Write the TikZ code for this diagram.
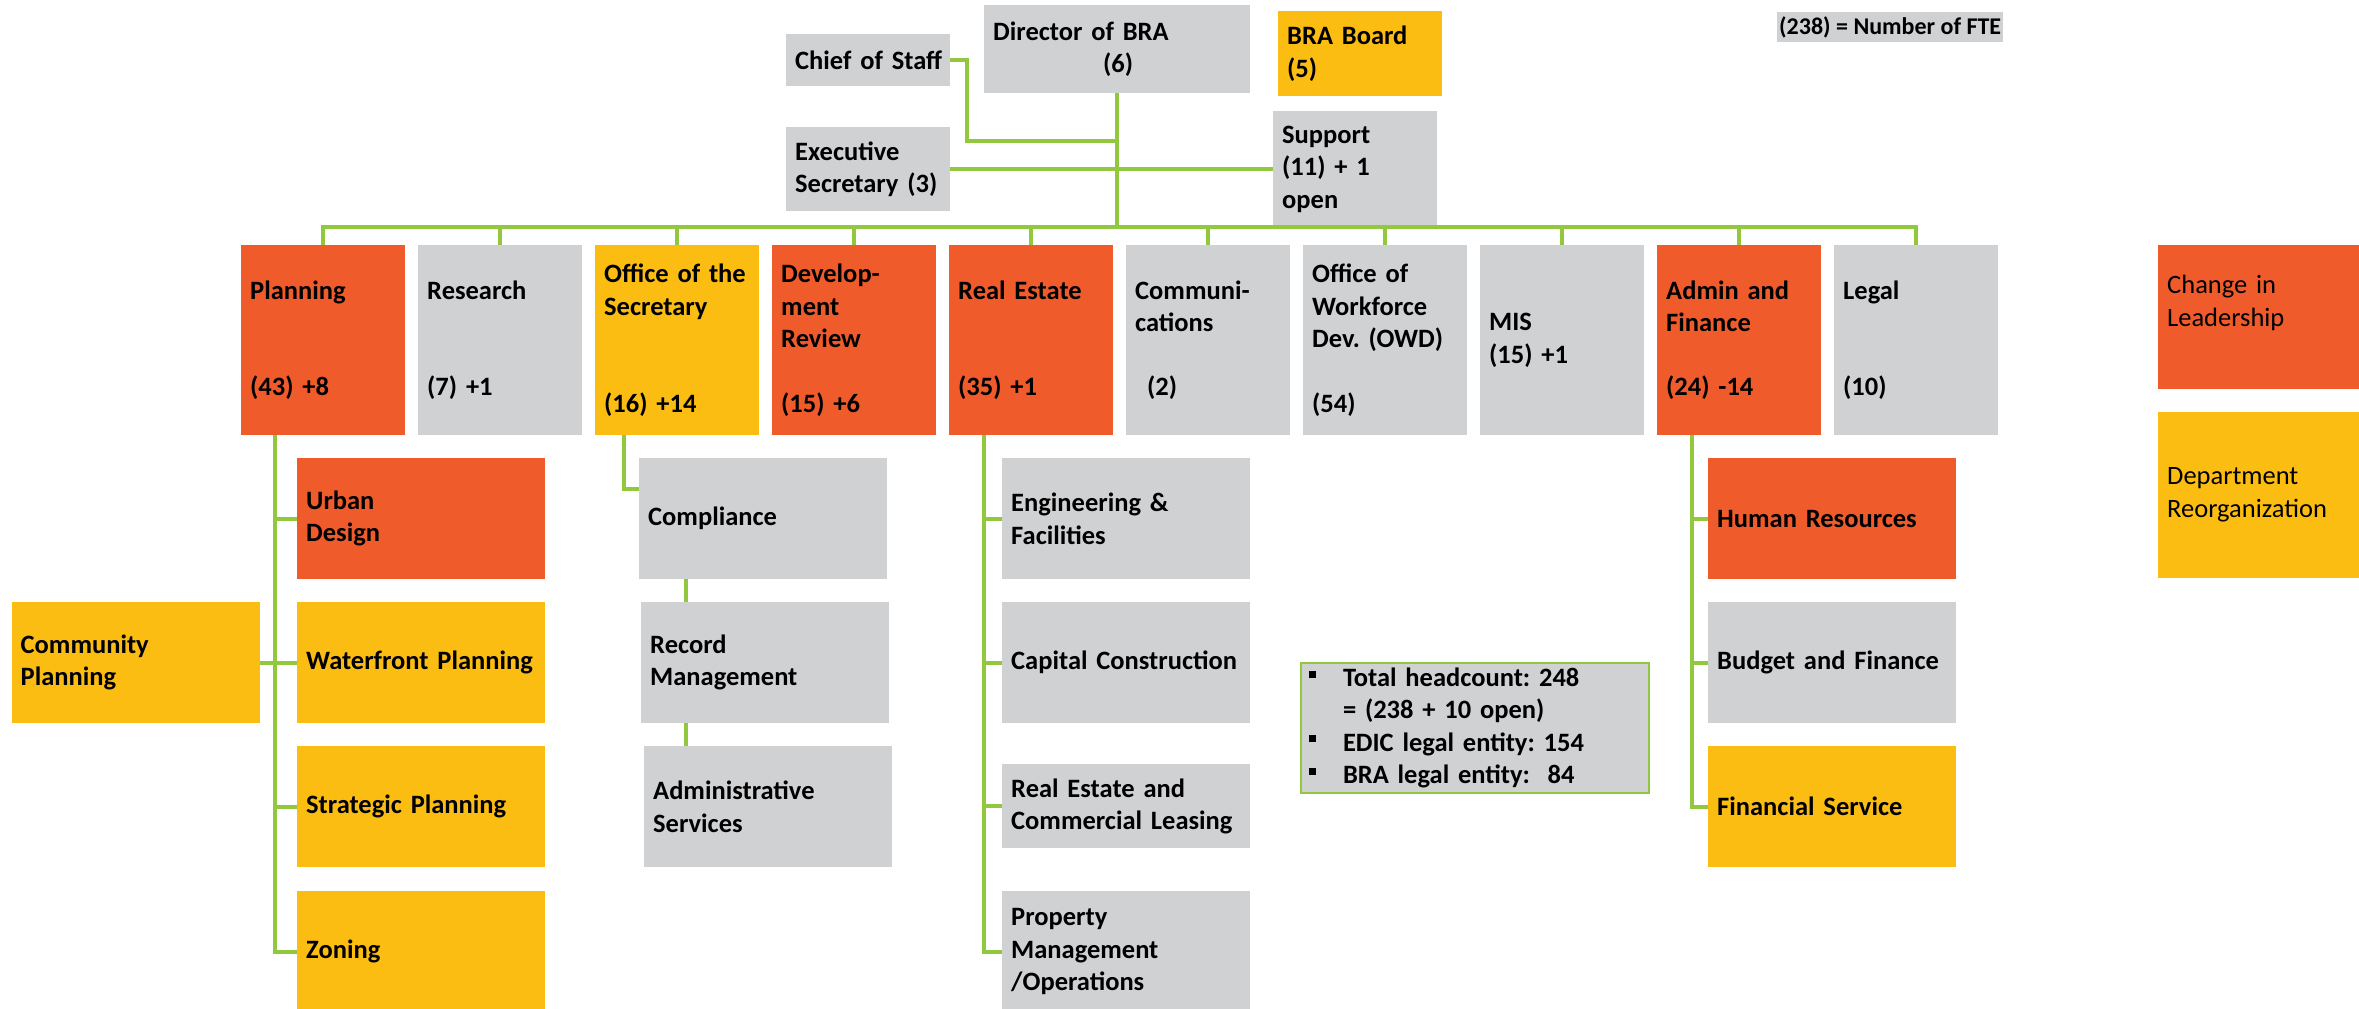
\documentclass[tikz,border=0pt]{standalone}
\usepackage{fontspec}
\setmainfont{Carlito}
\usepackage{tikz}
\usetikzlibrary{positioning}

\definecolor{leadred}{RGB}{240,91,43}
\definecolor{reorggold}{RGB}{252,189,18}
\definecolor{boxgrey}{RGB}{208,209,211}
\definecolor{linkgreen}{RGB}{146,200,62}

\newcommand{\sqbullet}{\raisebox{9pt}{\rule{7pt}{7pt}}\hspace{27pt}}
\frenchspacing

\tikzset{
  box/.style={rectangle, anchor=north west, inner xsep=9pt, inner ysep=0pt, align=left,
    font=\fontsize{26.5}{32.3}\selectfont\bfseries},
  lead/.style={box, fill=leadred},
  reorg/.style={box, fill=reorggold},
  plainbox/.style={box, fill=boxgrey},
  topbox/.style={minimum width=164pt, text width=146pt},
  dept/.style={minimum width=164pt, text width=146pt, minimum height=190pt},
  subunit/.style={minimum width=248pt, text width=230pt, minimum height=121pt},
  keybox/.style={minimum width=201pt, text width=183pt, font=\fontsize{26.5}{33}\selectfont},
  link/.style={draw=linkgreen, line width=4pt},
}

\begin{document}
\begin{tikzpicture}[x=1pt, y=-1pt]
    \useasboundingbox (0,0) rectangle (2359,1009);

    % Top management
    \node[plainbox, minimum width=266pt, text width=248pt, minimum height=88pt] (dir) at (984,5) {Director of BRA\\\hspace*{110pt}(6)};
    \node[plainbox, topbox, minimum height=52pt] (cos) at (786,34) {\mbox{Chief of Staff}};
    \node[plainbox, topbox, minimum height=84pt] (exec) at (786,127) {Executive\\Secretary (3)};
    \node[reorg, topbox, minimum height=85pt] (board) at (1278,11) {BRA Board\\(5)};
    \node[plainbox, topbox, minimum height=116pt] (support) at (1273,111) {Support\\(11) + 1\\open};
    \node[box, fill=boxgrey, font=\fontsize{24}{29}\selectfont\bfseries, inner xsep=2pt, minimum height=30pt] (fte) at (1777,12) {(238) = Number of FTE};

    % Departments
    \node[lead, dept] (plan) at (241,245) {Planning\\~\\~\\(43) +8};
    \node[plainbox, dept, right=12.6pt of plan] (research) {Research\\~\\~\\(7) +1};
    \node[reorg, dept, right=12.6pt of research] (secr) {Office of the\\Secretary\\~\\~\\(16) +14};
    \node[lead, dept, right=12.6pt of secr] (devrev) {Develop-\\ment\\Review\\~\\(15) +6};
    \node[lead, dept, right=12.6pt of devrev] (realest) {Real Estate\\~\\~\\(35) +1};
    \node[plainbox, dept, right=12.6pt of realest] (comms) {Communi-\\cations\\~\\\hspace*{12pt}(2)};
    \node[plainbox, dept, right=12.6pt of comms] (owd) {Office of\\Workforce\\Dev. (OWD)\\~\\(54)};
    \node[plainbox, dept, right=12.6pt of owd] (mis) {MIS\\(15) +1};
    \node[lead, dept, right=12.6pt of mis] (admin) {Admin and\\Finance\\~\\(24) -14};
    \node[plainbox, dept, right=12.6pt of admin] (legal) {Legal\\~\\~\\(10)};

    % Planning units
    \node[lead, subunit] (urban) at (297,458) {Urban\\Design};
    \node[reorg, subunit] (water) at (297,602) {Waterfront Planning};
    \node[reorg, subunit] (strat) at (297,746) {Strategic Planning};
    \node[reorg, subunit] (zoning) at (297,891) {Zoning};
    \node[reorg, subunit] (commplan) at (11.5,602) {Community\\Planning};

    % Secretary units
    \node[plainbox, subunit] (compl) at (639,458) {Compliance};
    \node[plainbox, subunit] (record) at (641,602) {Record\\Management};
    \node[plainbox, subunit] (admsvc) at (644,746) {Administrative\\Services};

    % Real estate units
    \node[plainbox, subunit] (eng) at (1002,458) {Engineering \&\\Facilities};
    \node[plainbox, subunit] (capcon) at (1002,602) {Capital Construction};
    \node[plainbox, subunit, minimum height=84pt] (leasing) at (1002,764) {Real Estate and\\Commercial Leasing};
    \node[plainbox, subunit] (propmgmt) at (1002,891) {Property\\Management\\/Operations};

    % Admin units
    \node[lead, subunit] (hr) at (1708,458) {Human Resources};
    \node[plainbox, subunit] (budget) at (1708,602) {Budget and Finance};
    \node[reorg, subunit] (finsvc) at (1708,746) {Financial Service};

    % Headcount summary
    \node[box, fill=boxgrey, draw=linkgreen, line width=2pt, inner xsep=8pt, minimum width=348pt, text width=332pt, minimum height=130pt] (summary) at (1300,662)
        {\sqbullet Total headcount: 248\\\hspace*{34pt}= (238 + 10 open)\\\sqbullet EDIC legal entity: 154\\\sqbullet BRA legal entity:~ 84};

    % Legend
    \node[lead, keybox, minimum height=144pt] (keylead) at (2158,245) {Change in\\Leadership\\~};
    \node[reorg, keybox, minimum height=166pt] (keyreorg) at (2158,412) {Department\\Reorganization};

    % Connectors
    \coordinate (hub) at (dir.south |- 0,227);
    \draw[link] (dir.south) -- (hub);
    \draw[link] (cos.east) -- ++(17,0) |- (dir.south |- 0,141);
    \draw[link] (exec.east) -- (support.west);
    \foreach \n in {plan,research,secr,devrev,realest,comms,owd,mis,admin,legal}
        \draw[link] (\n.north) |- (hub);

    \coordinate (plandn) at ([xshift=34pt]plan.south west);
    \foreach \k in {urban,water,strat,zoning}
        \draw[link] (plandn) |- (\k.west);
    \draw[link] (commplan.east) -- (water.west);

    \coordinate (secdn) at ([xshift=29pt]secr.south west);
    \draw[link] (secdn) |- ([yshift=-31pt]compl.north west);
    \draw[link] ([xshift=47pt]compl.south west) -- ([xshift=45pt]record.north west);
    \draw[link] ([xshift=45pt]record.south west) -- ([xshift=42pt]admsvc.north west);

    \coordinate (redn) at ([xshift=35pt]realest.south west);
    \foreach \k in {eng,capcon,leasing,propmgmt}
        \draw[link] (redn) |- (\k.west);

    \coordinate (admdn) at ([xshift=35pt]admin.south west);
    \foreach \k in {hr,budget,finsvc}
        \draw[link] (admdn) |- (\k.west);
\end{tikzpicture}
\end{document}
